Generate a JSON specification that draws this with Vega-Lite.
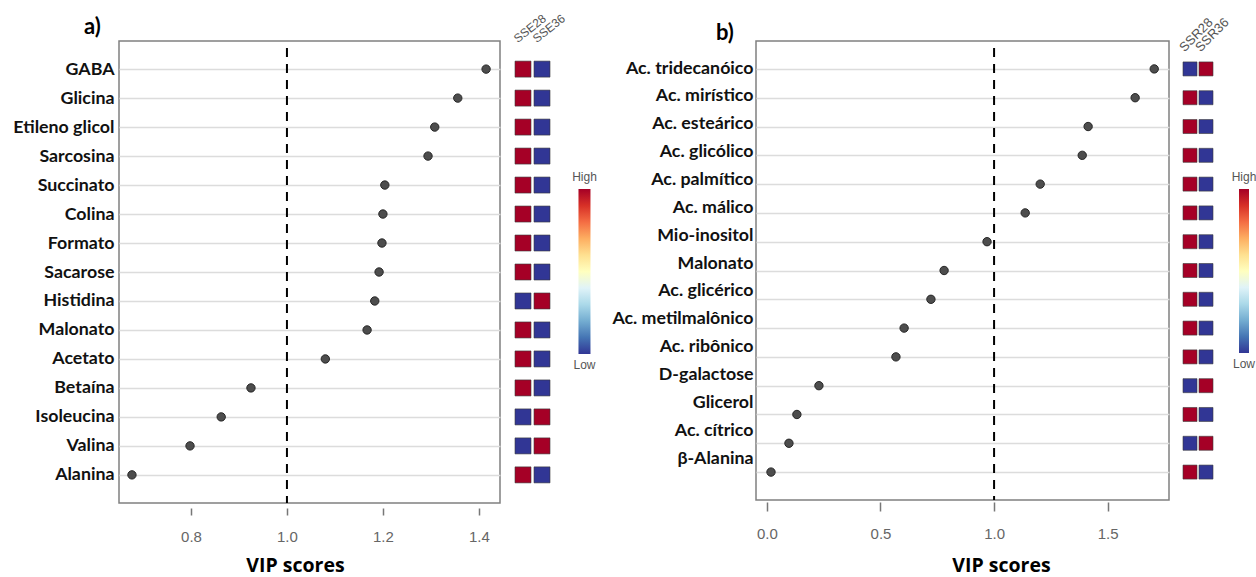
{
  "$schema": "https://vega.github.io/schema/vega-lite/v6.json",
  "background": "white",
  "padding": {"left": 12, "top": 11, "right": 0, "bottom": 0},
  "autosize": {"type": "pad"},
  "spacing": 0,
  "bounds": "flush",
  "config": {"font": "Liberation Sans"},
  "datasets": {
    "a_vip": [
      {"metabolite": "GABA", "vip": 1.415},
      {"metabolite": "Glicina", "vip": 1.356},
      {"metabolite": "Etileno glicol", "vip": 1.308},
      {"metabolite": "Sarcosina", "vip": 1.294},
      {"metabolite": "Succinato", "vip": 1.204},
      {"metabolite": "Colina", "vip": 1.2},
      {"metabolite": "Formato", "vip": 1.198},
      {"metabolite": "Sacarose", "vip": 1.192},
      {"metabolite": "Histidina", "vip": 1.183},
      {"metabolite": "Malonato", "vip": 1.167},
      {"metabolite": "Acetato", "vip": 1.08},
      {"metabolite": "Betaína", "vip": 0.925},
      {"metabolite": "Isoleucina", "vip": 0.863},
      {"metabolite": "Valina", "vip": 0.798},
      {"metabolite": "Alanina", "vip": 0.677}
    ],
    "a_heat": [
      {"metabolite": "GABA", "sample": "SSE28", "level": 1}, {"metabolite": "GABA", "sample": "SSE36", "level": 0},
      {"metabolite": "Glicina", "sample": "SSE28", "level": 1}, {"metabolite": "Glicina", "sample": "SSE36", "level": 0},
      {"metabolite": "Etileno glicol", "sample": "SSE28", "level": 1}, {"metabolite": "Etileno glicol", "sample": "SSE36", "level": 0},
      {"metabolite": "Sarcosina", "sample": "SSE28", "level": 1}, {"metabolite": "Sarcosina", "sample": "SSE36", "level": 0},
      {"metabolite": "Succinato", "sample": "SSE28", "level": 1}, {"metabolite": "Succinato", "sample": "SSE36", "level": 0},
      {"metabolite": "Colina", "sample": "SSE28", "level": 1}, {"metabolite": "Colina", "sample": "SSE36", "level": 0},
      {"metabolite": "Formato", "sample": "SSE28", "level": 1}, {"metabolite": "Formato", "sample": "SSE36", "level": 0},
      {"metabolite": "Sacarose", "sample": "SSE28", "level": 1}, {"metabolite": "Sacarose", "sample": "SSE36", "level": 0},
      {"metabolite": "Histidina", "sample": "SSE28", "level": 0}, {"metabolite": "Histidina", "sample": "SSE36", "level": 1},
      {"metabolite": "Malonato", "sample": "SSE28", "level": 1}, {"metabolite": "Malonato", "sample": "SSE36", "level": 0},
      {"metabolite": "Acetato", "sample": "SSE28", "level": 1}, {"metabolite": "Acetato", "sample": "SSE36", "level": 0},
      {"metabolite": "Betaína", "sample": "SSE28", "level": 1}, {"metabolite": "Betaína", "sample": "SSE36", "level": 0},
      {"metabolite": "Isoleucina", "sample": "SSE28", "level": 0}, {"metabolite": "Isoleucina", "sample": "SSE36", "level": 1},
      {"metabolite": "Valina", "sample": "SSE28", "level": 0}, {"metabolite": "Valina", "sample": "SSE36", "level": 1},
      {"metabolite": "Alanina", "sample": "SSE28", "level": 1}, {"metabolite": "Alanina", "sample": "SSE36", "level": 0}
    ],
    "b_vip": [
      {"metabolite": "Ac. tridecanóico", "vip": 1.705},
      {"metabolite": "Ac. mirístico", "vip": 1.621},
      {"metabolite": "Ac. esteárico", "vip": 1.414},
      {"metabolite": "Ac. glicólico", "vip": 1.388},
      {"metabolite": "Ac. palmítico", "vip": 1.203},
      {"metabolite": "Ac. málico", "vip": 1.137},
      {"metabolite": "Mio-inositol", "vip": 0.969},
      {"metabolite": "Malonato", "vip": 0.78},
      {"metabolite": "Ac. glicérico", "vip": 0.722},
      {"metabolite": "Ac. metilmalônico", "vip": 0.604},
      {"metabolite": "Ac. ribônico", "vip": 0.568},
      {"metabolite": "D-galactose", "vip": 0.229},
      {"metabolite": "Glicerol", "vip": 0.132},
      {"metabolite": "Ac. cítrico", "vip": 0.097},
      {"metabolite": "β-Alanina", "vip": 0.018}
    ],
    "b_heat": [
      {"metabolite": "Ac. tridecanóico", "sample": "SSR28", "level": 0}, {"metabolite": "Ac. tridecanóico", "sample": "SSR36", "level": 1},
      {"metabolite": "Ac. mirístico", "sample": "SSR28", "level": 1}, {"metabolite": "Ac. mirístico", "sample": "SSR36", "level": 0},
      {"metabolite": "Ac. esteárico", "sample": "SSR28", "level": 1}, {"metabolite": "Ac. esteárico", "sample": "SSR36", "level": 0},
      {"metabolite": "Ac. glicólico", "sample": "SSR28", "level": 1}, {"metabolite": "Ac. glicólico", "sample": "SSR36", "level": 0},
      {"metabolite": "Ac. palmítico", "sample": "SSR28", "level": 1}, {"metabolite": "Ac. palmítico", "sample": "SSR36", "level": 0},
      {"metabolite": "Ac. málico", "sample": "SSR28", "level": 1}, {"metabolite": "Ac. málico", "sample": "SSR36", "level": 0},
      {"metabolite": "Mio-inositol", "sample": "SSR28", "level": 1}, {"metabolite": "Mio-inositol", "sample": "SSR36", "level": 0},
      {"metabolite": "Malonato", "sample": "SSR28", "level": 1}, {"metabolite": "Malonato", "sample": "SSR36", "level": 0},
      {"metabolite": "Ac. glicérico", "sample": "SSR28", "level": 1}, {"metabolite": "Ac. glicérico", "sample": "SSR36", "level": 0},
      {"metabolite": "Ac. metilmalônico", "sample": "SSR28", "level": 1}, {"metabolite": "Ac. metilmalônico", "sample": "SSR36", "level": 0},
      {"metabolite": "Ac. ribônico", "sample": "SSR28", "level": 1}, {"metabolite": "Ac. ribônico", "sample": "SSR36", "level": 0},
      {"metabolite": "D-galactose", "sample": "SSR28", "level": 0}, {"metabolite": "D-galactose", "sample": "SSR36", "level": 1},
      {"metabolite": "Glicerol", "sample": "SSR28", "level": 1}, {"metabolite": "Glicerol", "sample": "SSR36", "level": 0},
      {"metabolite": "Ac. cítrico", "sample": "SSR28", "level": 0}, {"metabolite": "Ac. cítrico", "sample": "SSR36", "level": 1},
      {"metabolite": "β-Alanina", "sample": "SSR28", "level": 1}, {"metabolite": "β-Alanina", "sample": "SSR36", "level": 0}
    ],
    "colorbar": [
      {"bar": "colorbar", "low": 0, "high": 1}
    ],
    "colorbar_labels": [
      {"bar": "colorbar", "level": 1, "label": "High"},
      {"bar": "colorbar", "level": 0, "label": "Low"}
    ]
  },
  "hconcat": [
    {
      "width": 381,
      "height": 462,
      "view": {"stroke": "#808080", "strokeWidth": 1.5},
      "title": {"text": "a)", "anchor": "start", "frame": "group", "dx": -35, "offset": -16, "baseline": "alphabetic", "fontSize": 22, "font": "Lato", "fontWeight": "bold", "color": "black"},
      "layer": [
        {
          "data": {"name": "a_vip"},
          "mark": {"type": "point", "filled": true, "size": 70, "color": "#4d4d4d", "stroke": "#262626", "strokeWidth": 1, "opacity": 1},
          "encoding": {
            "x": {"field": "vip", "type": "quantitative", "scale": {"domain": [0.65, 1.444], "nice": false, "zero": false},
              "axis": {"title": "VIP scores", "values": [0.8, 1.0, 1.2, 1.4], "format": ".1f", "grid": false, "domain": false, "offset": 5, "tickSize": 7, "tickColor": "#777", "tickWidth": 1.5, "labelPadding": 14, "labelFont": "Liberation Sans", "labelFontSize": 15, "labelColor": "#666", "titleFont": "Open Sans", "titleFontSize": 19.5, "titleFontWeight": "bold", "titleColor": "black", "titlePadding": 12, "titleX": 176}},
            "y": {"field": "metabolite", "type": "nominal", "sort": "-x", "scale": {"type": "point", "padding": 0.97},
              "axis": {"title": null, "domain": false, "ticks": false, "grid": true, "gridColor": "#dcdcdc", "gridWidth": 1.5, "labelPadding": 5, "labelFont": "Lato", "labelFontWeight": "bold", "labelFontSize": 17.8, "labelColor": "#111", "labelLimit": 300}}
          }
        },
        {
          "data": {"values": [{"threshold": 1}]},
          "mark": {"type": "rule", "strokeDash": [9, 7], "strokeDashOffset": 9, "strokeWidth": 2, "color": "black"},
          "encoding": {"x": {"field": "threshold", "type": "quantitative"}}
        }
      ]
    },
    {
      "width": 256,
      "height": 462,
      "view": {"stroke": null},
      "resolve": {"scale": {"x": "independent", "y": "independent"}, "axis": {"x": "independent", "y": "independent"}},
      "layer": [
        {
          "data": {"name": "a_heat"},
          "mark": {"type": "square", "size": 256, "opacity": 1, "stroke": "#3a3a3a", "strokeWidth": 0.6},
          "encoding": {
            "x": {"field": "sample", "type": "nominal", "scale": {"type": "point", "padding": 0, "range": [23, 42]},
              "axis": {"orient": "top", "title": null, "domain": false, "ticks": false, "tickSize": 0, "labelAngle": -38, "labelAlign": "left", "labelBaseline": "bottom", "labelPadding": -4, "labelOffset": -4, "labelFont": "Liberation Sans", "labelFontSize": 12, "labelColor": "#555"}},
            "y": {"field": "metabolite", "type": "nominal", "sort": ["GABA", "Glicina", "Etileno glicol", "Sarcosina", "Succinato", "Colina", "Formato", "Sacarose", "Histidina", "Malonato", "Acetato", "Betaína", "Isoleucina", "Valina", "Alanina"], "scale": {"type": "point", "padding": 0.97}, "axis": null},
            "color": {"field": "level", "type": "quantitative", "legend": null,
              "scale": {"domain": [0, 1], "range": ["#313695", "#4575b4", "#74add1", "#abd9e9", "#e0f3f8", "#ffffbf", "#fee090", "#fdae61", "#f46d43", "#d73027", "#a50026"]}}
          }
        },
        {
          "layer": [
            {
              "data": {"name": "colorbar"},
              "mark": {"type": "bar", "width": 12, "fill": {"gradient": "linear", "x1": 0, "y1": 1, "x2": 0, "y2": 0, "stops": [{"offset": 0, "color": "#313695"}, {"offset": 0.1, "color": "#4575b4"}, {"offset": 0.2, "color": "#74add1"}, {"offset": 0.3, "color": "#abd9e9"}, {"offset": 0.4, "color": "#e0f3f8"}, {"offset": 0.5, "color": "#ffffbf"}, {"offset": 0.6, "color": "#fee090"}, {"offset": 0.7, "color": "#fdae61"}, {"offset": 0.8, "color": "#f46d43"}, {"offset": 0.9, "color": "#d73027"}, {"offset": 1, "color": "#a50026"}]}},
              "encoding": {
                "x": {"field": "bar", "type": "nominal", "scale": {"type": "point", "align": 0.33, "padding": 0}, "axis": null},
                "y": {"field": "low", "type": "quantitative", "scale": {"domain": [-0.903, 1.897], "nice": false, "zero": false}, "axis": null},
                "y2": {"field": "high"}
              }
            },
            {
              "data": {"name": "colorbar_labels"},
              "transform": [{"filter": "datum.label == 'High'"}],
              "mark": {"type": "text", "baseline": "bottom", "align": "center", "dy": -5, "fontSize": 12, "color": "#555"},
              "encoding": {
                "x": {"field": "bar", "type": "nominal"},
                "y": {"field": "level", "type": "quantitative"},
                "text": {"field": "label"}
              }
            },
            {
              "data": {"name": "colorbar_labels"},
              "transform": [{"filter": "datum.label == 'Low'"}],
              "mark": {"type": "text", "baseline": "top", "align": "center", "dy": 6, "fontSize": 12, "color": "#555"},
              "encoding": {
                "x": {"field": "bar", "type": "nominal"},
                "y": {"field": "level", "type": "quantitative"},
                "text": {"field": "label"}
              }
            }
          ]
        }
      ]
    },
    {
      "width": 413,
      "height": 459,
      "view": {"stroke": "#808080", "strokeWidth": 1.5},
      "title": {"text": "b)", "anchor": "start", "frame": "group", "dx": -40, "offset": -22, "baseline": "alphabetic", "fontSize": 22, "font": "Lato", "fontWeight": "bold", "color": "black"},
      "resolve": {"scale": {"y": "independent"}, "axis": {"y": "independent"}},
      "layer": [
        {
          "data": {"name": "b_vip"},
          "mark": {"type": "point", "filled": true, "size": 70, "color": "#4d4d4d", "stroke": "#262626", "strokeWidth": 1, "opacity": 1},
          "encoding": {
            "x": {"field": "vip", "type": "quantitative", "scale": {"domain": [-0.048, 1.77], "nice": false, "zero": false},
              "axis": {"title": "VIP scores", "values": [0, 0.5, 1.0, 1.5], "format": ".1f", "grid": false, "domain": false, "offset": 2, "tickSize": 9, "tickColor": "#777", "tickWidth": 1.5, "labelPadding": 15, "labelFont": "Liberation Sans", "labelFontSize": 15, "labelColor": "#666", "titleFont": "Open Sans", "titleFontSize": 19.5, "titleFontWeight": "bold", "titleColor": "black", "titlePadding": 15, "titleX": 245}},
            "y": {"field": "metabolite", "type": "nominal", "sort": "-x", "scale": {"type": "point", "padding": 0.97},
              "axis": {"orient": "left", "title": null, "domain": false, "ticks": false, "labels": false, "grid": true, "gridColor": "#dcdcdc", "gridWidth": 1.5}}
          }
        },
        {
          "data": {"values": [{"threshold": 1}]},
          "mark": {"type": "rule", "strokeDash": [9, 7], "strokeDashOffset": 9, "strokeWidth": 2, "color": "black"},
          "encoding": {"x": {"field": "threshold", "type": "quantitative"}}
        },
        {
          "data": {"name": "b_vip"},
          "mark": {"type": "point", "opacity": 0},
          "encoding": {
            "x": {"field": "vip", "type": "quantitative"},
            "y": {"field": "metabolite", "type": "nominal", "sort": "-x", "scale": {"type": "point", "padding": 0, "range": [27, 417]},
              "axis": {"orient": "left", "title": null, "domain": false, "ticks": false, "grid": false, "labelPadding": 3, "labelFont": "Lato", "labelFontWeight": "bold", "labelFontSize": 17.8, "labelColor": "#111", "labelLimit": 300}}
          }
        }
      ]
    },
    {
      "width": 80,
      "height": 459,
      "view": {"stroke": null},
      "resolve": {"scale": {"x": "independent", "y": "independent"}, "axis": {"x": "independent", "y": "independent"}},
      "layer": [
        {
          "data": {"name": "b_heat"},
          "mark": {"type": "square", "size": 196, "opacity": 1, "stroke": "#3a3a3a", "strokeWidth": 0.6},
          "encoding": {
            "x": {"field": "sample", "type": "nominal", "scale": {"type": "point", "padding": 0, "range": [21, 37]},
              "axis": {"orient": "top", "title": null, "domain": false, "ticks": false, "tickSize": 0, "labelAngle": -45, "labelAlign": "left", "labelBaseline": "bottom", "labelPadding": -13, "labelOffset": -4, "labelFont": "Liberation Sans", "labelFontSize": 13, "labelColor": "#555"}},
            "y": {"field": "metabolite", "type": "nominal", "sort": ["Ac. tridecanóico", "Ac. mirístico", "Ac. esteárico", "Ac. glicólico", "Ac. palmítico", "Ac. málico", "Mio-inositol", "Malonato", "Ac. glicérico", "Ac. metilmalônico", "Ac. ribônico", "D-galactose", "Glicerol", "Ac. cítrico", "β-Alanina"], "scale": {"type": "point", "padding": 0.97}, "axis": null},
            "color": {"field": "level", "type": "quantitative", "legend": null,
              "scale": {"domain": [0, 1], "range": ["#313695", "#4575b4", "#74add1", "#abd9e9", "#e0f3f8", "#ffffbf", "#fee090", "#fdae61", "#f46d43", "#d73027", "#a50026"]}}
          }
        },
        {
          "layer": [
            {
              "data": {"name": "colorbar"},
              "mark": {"type": "bar", "width": 10, "fill": {"gradient": "linear", "x1": 0, "y1": 1, "x2": 0, "y2": 0, "stops": [{"offset": 0, "color": "#313695"}, {"offset": 0.1, "color": "#4575b4"}, {"offset": 0.2, "color": "#74add1"}, {"offset": 0.3, "color": "#abd9e9"}, {"offset": 0.4, "color": "#e0f3f8"}, {"offset": 0.5, "color": "#ffffbf"}, {"offset": 0.6, "color": "#fee090"}, {"offset": 0.7, "color": "#fdae61"}, {"offset": 0.8, "color": "#f46d43"}, {"offset": 0.9, "color": "#d73027"}, {"offset": 1, "color": "#a50026"}]}},
              "encoding": {
                "x": {"field": "bar", "type": "nominal", "scale": {"type": "point", "align": 0.9375, "padding": 0}, "axis": null},
                "y": {"field": "low", "type": "quantitative", "scale": {"domain": [-0.896, 1.903], "nice": false, "zero": false}, "axis": null},
                "y2": {"field": "high"}
              }
            },
            {
              "data": {"name": "colorbar_labels"},
              "transform": [{"filter": "datum.label == 'High'"}],
              "mark": {"type": "text", "baseline": "bottom", "align": "center", "dy": -5, "fontSize": 12, "color": "#555"},
              "encoding": {
                "x": {"field": "bar", "type": "nominal"},
                "y": {"field": "level", "type": "quantitative"},
                "text": {"field": "label"}
              }
            },
            {
              "data": {"name": "colorbar_labels"},
              "transform": [{"filter": "datum.label == 'Low'"}],
              "mark": {"type": "text", "baseline": "top", "align": "center", "dy": 6, "fontSize": 12, "color": "#555"},
              "encoding": {
                "x": {"field": "bar", "type": "nominal"},
                "y": {"field": "level", "type": "quantitative"},
                "text": {"field": "label"}
              }
            }
          ]
        }
      ]
    }
  ]
}
